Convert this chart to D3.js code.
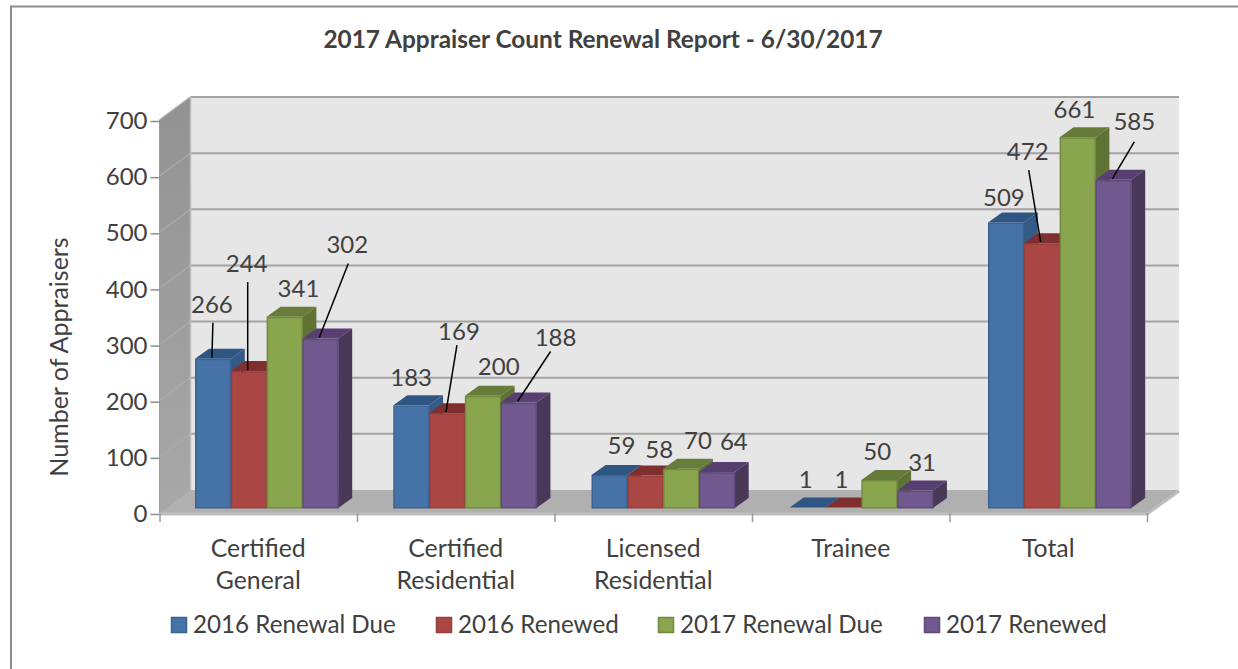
<!DOCTYPE html>
<html>
<head>
<meta charset="utf-8">
<script src="https://cdn.jsdelivr.net/npm/d3@7/dist/d3.min.js"></script>
<style>
html,body{margin:0;padding:0;background:#fff;}
svg{display:block;font-family:Lato,"Open Sans",sans-serif;}
</style>
</head>
<body>
<svg id="chart" width="1238" height="669"></svg>
<script>
const categories = [["Certified","General"],["Certified","Residential"],["Licensed","Residential"],["Trainee"],["Total"]];
const seriesNames = ["2016 Renewal Due","2016 Renewed","2017 Renewal Due","2017 Renewed"];
const due2016 = [266,183,59,1,509];
const renewed2016 = [244,169,58,1,472];
const due2017 = [341,200,70,50,661];
const renewed2017 = [302,188,64,31,585];
const seriesValues = [due2016,renewed2016,due2017,renewed2017];
const yTicks = [0,100,200,300,400,500,600,700];

// label placement relative to bar top centre, [dx,dy]; series by category
const labelNudge = [
 [[-1,-54],[0,-28],[12,-29],[-2,-28],[-2,-25]],
 [[-2,-108],[12,-82],[14,-26],[-2,-28],[-14,-92]],
 [[14,-28],[16,-29],[17,-28],[-2,-28],[-3,-28]],
 [[27,-94],[37,-65],[17,-30],[7,-28],[21,-58]]
];
// leader lines: "series,category" -> start offset from label centre
const leaders = {"0,0":[1,18],"1,0":[1,19],"3,0":[1,19],"1,1":[-2,14],"3,1":[-5,14],"1,4":[1,19],"3,4":[0,20]};

const colors = [
 {front:"#4573a7",edge:"#3b6392",top:"#2f5583",side:"#345b87"},
 {front:"#aa4643",edge:"#94403c",top:"#7f302e",side:"#7f322f"},
 {front:"#89a54e",edge:"#728b40",top:"#677c3a",side:"#5f7335"},
 {front:"#71588f",edge:"#5f4a7a",top:"#583f72",side:"#4a3859"}
];

const W=1238,H=669;
const depth3d={wallX:31,wallY:23,barX:14,barY:10};
const textCol="#404040";
const svg=d3.select("#chart");

// partial frame: left and top edges only
svg.append("path").attr("d",`M11,${H}V6.5H${W}`).attr("fill","none").attr("stroke","#8c8c8c").attr("stroke-width",2);

const yAxisScale=d3.scaleLinear().domain([0,700]).range([513,120]);
const yBar=d3.scaleLinear().domain([0,700]).range([508,115.3]);
const xAxisScale=d3.scaleLinear().domain([0,5]).range([159.5,1147]);
const xGroup=d3.scaleLinear().domain([0,4]).range([195,988]);
const barW=35.8;

const left=xAxisScale(0), right=xAxisScale(5);
const poly=p=>p.map(d=>d.join(",")).join(" ");
const dx=depth3d.wallX, dy=depth3d.wallY;
const y0=yAxisScale(0), yT=yAxisScale(700);

const defs=svg.append("defs");
const g=defs.append("linearGradient").attr("id","wallGrad").attr("x1",0).attr("y1",0).attr("x2",0).attr("y2",1);
g.append("stop").attr("offset",0).attr("stop-color","#929292");
g.append("stop").attr("offset",1).attr("stop-color","#a8a8a8");

// back wall
svg.append("polygon").attr("points",poly([[left+dx,yT-dy],[right+32,yT-dy],[right+32,y0-dy],[left+dx,y0-dy]]))
  .attr("fill","#e6e6e6");
// left wall
svg.append("polygon").attr("points",poly([[left,yT],[left+dx,yT-dy],[left+dx,y0-dy],[left,y0]]))
  .attr("fill","url(#wallGrad)").attr("stroke","#9a9a9a").attr("stroke-width",1);
// floor
svg.append("polygon").attr("points",poly([[left,y0],[right,y0],[right+32,y0-dy],[left+dx,y0-dy]]))
  .attr("fill","#b0b0b0");
svg.append("polyline").attr("points",poly([[left,y0+1],[right,y0+1],[right+32,y0-dy+1]]))
  .attr("fill","none").attr("stroke","#bdbdbd").attr("stroke-width",3);

// gridlines
const grid=svg.append("g");
yTicks.forEach(v=>{
  const y=yAxisScale(v);
  if(v>0){
    grid.append("line").attr("x1",left+dx).attr("x2",right+32).attr("y1",y-dy).attr("y2",y-dy)
      .attr("stroke","#a3a3a3").attr("stroke-width",2);
    grid.append("line").attr("x1",left).attr("x2",left+dx).attr("y1",y).attr("y2",y-dy)
      .attr("stroke","#a9a9a9").attr("stroke-width",1.5);
  }
});
svg.append("line").attr("x1",left+dx).attr("x2",left+dx).attr("y1",yT-dy).attr("y2",y0-dy).attr("stroke","#bdbdbd").attr("stroke-width",1.5);

// axes
const yAxis=d3.axisLeft(yAxisScale).tickValues(yTicks).tickSize(9).tickPadding(3).tickFormat(d3.format("d"));
const ya=svg.append("g").attr("transform",`translate(${left},1)`).call(yAxis);
ya.select(".domain").remove();
ya.selectAll("line").attr("stroke","#8c8c8c").attr("stroke-width",1.5);
ya.selectAll("text").attr("font-size",24).attr("fill",textCol).attr("font-family","Lato");

const xAxis=d3.axisBottom(xAxisScale).tickValues(d3.range(6)).tickSize(9).tickFormat("");
const xa=svg.append("g").attr("transform",`translate(0,${y0})`).call(xAxis);
xa.select(".domain").remove();
xa.selectAll("line").attr("stroke","#9a9a9a").attr("stroke-width",1.5);

// bars
const bars=svg.append("g");
const bd=depth3d.barX, bh=depth3d.barY;
categories.forEach((c,ci)=>{
  seriesValues.forEach((vals,si)=>{
    const v=vals[ci], x=xGroup(ci)+si*barW, yTop=yBar(v), yB=yBar(0), col=colors[si];
    bars.append("polygon").attr("points",poly([[x,yTop],[x+barW,yTop],[x+barW+bd,yTop-bh],[x+bd,yTop-bh]])).attr("fill",col.top);
    bars.append("polygon").attr("points",poly([[x+barW,yTop],[x+barW+bd,yTop-bh],[x+barW+bd,yB-bh],[x+barW,yB]])).attr("fill",col.side);
    if(yB-yTop>2){
      bars.append("rect").attr("x",x+0.75).attr("y",yTop+0.75).attr("width",barW-1).attr("height",yB-yTop-1)
        .attr("fill",col.front).attr("stroke",col.edge).attr("stroke-width",1.5);
    }
  });
});

// data labels and leaders
const labels=svg.append("g");
seriesValues.forEach((vals,si)=>{
  vals.forEach((v,ci)=>{
    const cx=xGroup(ci)+si*barW+barW/2, top=yBar(v), n=labelNudge[si][ci];
    const lx=cx+n[0], ly=top+n[1];
    const key=si+","+ci;
    if(leaders[key]){
      labels.append("line").attr("x1",lx+leaders[key][0]).attr("y1",ly+leaders[key][1])
        .attr("x2",cx-1).attr("y2",top-1).attr("stroke","#000").attr("stroke-width",1.5);
    }
    labels.append("text").attr("x",lx).attr("y",ly).attr("dy","0.35em").attr("text-anchor","middle")
      .attr("font-size",24).attr("fill",textCol).text(v);
  });
});

// category labels
const catLabelX=d3.scaleLinear().domain([0,5]).range([159.5,1147]);
categories.forEach((lines,i)=>{
  const t=svg.append("text").attr("text-anchor","middle").attr("fill",textCol).attr("font-size",24.8);
  lines.forEach((l,j)=>t.append("tspan").attr("x",catLabelX(i+0.5)).attr("y",557+j*32).text(l));
});

// title
svg.append("text").attr("x",603).attr("y",48).attr("text-anchor","middle").attr("font-weight",700)
  .attr("font-size",24.4).attr("fill",textCol).text("2017 Appraiser Count Renewal Report - 6/30/2017");

// y title
svg.append("text").attr("transform","translate(68,357) rotate(-90)").attr("text-anchor","middle")
  .attr("font-size",25).attr("fill",textCol).text("Number of Appraisers");

// legend
const legendX=d3.scaleOrdinal().domain(seriesNames).range([171,436,658,924]);
const legend=svg.append("g");
seriesNames.forEach((n,i)=>{
  const x=legendX(n);
  legend.append("rect").attr("x",x+0.5).attr("y",617.5).attr("width",15).attr("height",15)
    .attr("fill",colors[i].front).attr("stroke",colors[i].edge).attr("stroke-width",1.5);
  legend.append("text").attr("x",x+22).attr("y",633).attr("font-size",24.2).attr("fill",textCol).text(n);
});
</script>
</body>
</html>
